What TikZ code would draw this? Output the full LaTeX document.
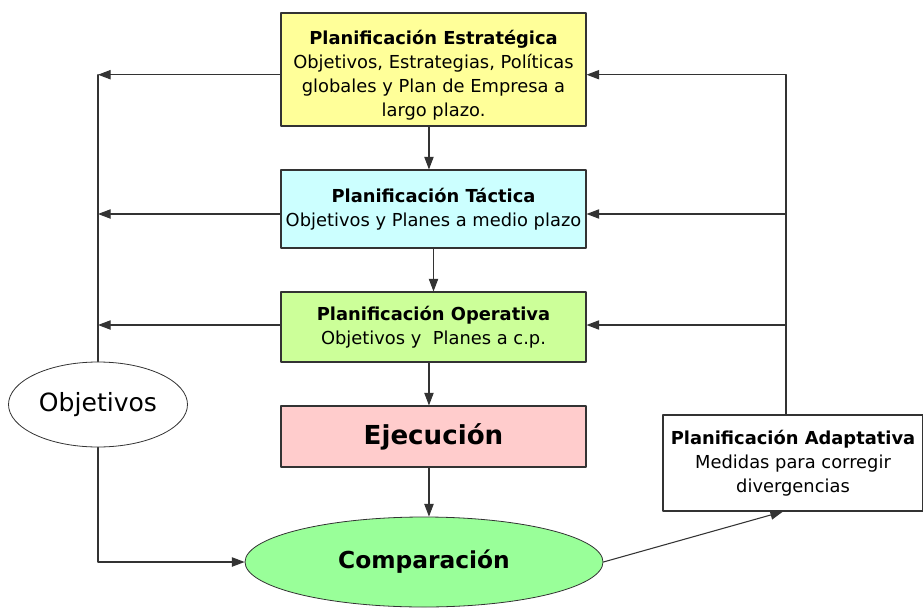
\documentclass[tikz,border=0pt]{standalone}
\usepackage{fontspec}
\setmainfont{DejaVu Sans}
\usetikzlibrary{arrows.meta}
\usetikzlibrary{shapes.geometric}
\definecolor{amarillo}{HTML}{FFFF99}
\definecolor{celeste}{HTML}{CCFFFF}
\definecolor{verdeclaro}{HTML}{CCFF99}
\definecolor{rosa}{HTML}{FFCCCC}
\definecolor{verde}{HTML}{99FF99}
\definecolor{linea}{HTML}{333333}
\newcommand{\titulo}[1]{{\bfseries #1}}
\tikzset{
  caja/.style={draw=linea, line width=0.8pt, align=center, inner sep=2pt,
    font=\fontsize{13.4}{18}\selectfont},
  elipse/.style={draw=linea, ellipse, line width=0.6pt, inner sep=0pt},
  flecha/.style={draw=linea, line width=0.8pt, ->}
}

\begin{document}
\begin{tikzpicture}[line cap=round,line join=round,>={Triangle[length=9.5pt,width=7pt]},x=0.75pt,y=0.75pt]
\useasboundingbox (0,0) rectangle (923,608);
% columna central
\node[caja, fill=amarillo, minimum width=228.75pt, minimum height=84.75pt] (estr) at (433.5,538.5)
  {\rule{0pt}{19pt}\titulo{Planificación Estratégica}\\Objetivos, Estrategias, Políticas\\globales y Plan de Empresa a\\largo plazo.};
\node[caja, fill=celeste, minimum width=228.75pt, minimum height=58.5pt] (tact) at (433.5,399)
  {\titulo{Planificación Táctica}\\Objetivos y Planes a medio plazo};
\node[caja, fill=verdeclaro, minimum width=228.75pt, minimum height=52.5pt] (oper) at (433.5,281)
  {\titulo{Planificación Operativa}\\Objetivos y~~Planes a c.p.};
\node[caja, fill=rosa, minimum width=228.75pt, minimum height=45.75pt, font=\fontsize{19.6}{22}\selectfont\bfseries] (ejec) at (433.5,171.5)
  {Ejecución};
\node[elipse, fill=verde, minimum width=268.5pt, minimum height=67.5pt, font=\fontsize{17.5}{20}\selectfont\bfseries] (comp) at (424,46)
  {Comparación};
% laterales
\node[elipse, fill=white, minimum width=134.25pt, minimum height=63.75pt, font=\fontsize{18.8}{20}\selectfont] (obj) at (98,203.5)
  {Objetivos};
\node[caja, fill=white, minimum width=195pt, minimum height=72pt] (adap) at (793,145)
  {\titulo{Planificación Adaptativa}\\Medidas para corregir\\divergencias};
% puntos de las verticales
\coordinate (izq1) at (98,533.3);
\coordinate (izq2) at (98,394);
\coordinate (izq3) at (98,283);
\coordinate (der1) at (786,533.3);
\coordinate (der2) at (786,394);
\coordinate (der3) at (786,283);
% flechas hacia abajo
\draw[flecha] ([xshift=-3.4pt]estr.south) -- ([xshift=-3.4pt]tact.north);
\draw[flecha] (tact.south) -- (oper.north);
\draw[flecha] ([xshift=-3.4pt]oper.south) -- ([xshift=-3.4pt]ejec.north);
\draw[flecha] ([xshift=-3.4pt]ejec.south) -- ([xshift=-3.4pt]ejec.south |- comp.north);
% izquierda
\draw[flecha] (estr.west |- izq1) -- (izq1);
\draw[flecha] (tact.west |- izq2) -- (izq2);
\draw[flecha] (oper.west |- izq3) -- (izq3);
\draw[draw=linea, line width=0.8pt] (obj.north) -- (izq1);
\draw[flecha] (obj.south) |- (comp.west);
% derecha
\draw[draw=linea, line width=0.8pt] (der1 |- adap.north) -- (der1);
\draw[flecha] (der1) -- (der1 -| estr.east);
\draw[flecha] (der2) -- (der2 -| tact.east);
\draw[flecha] (der3) -- (der3 -| oper.east);
\draw[flecha] (comp.east) -- ([xshift=-7.5pt]adap.south);
\end{tikzpicture}
\end{document}
